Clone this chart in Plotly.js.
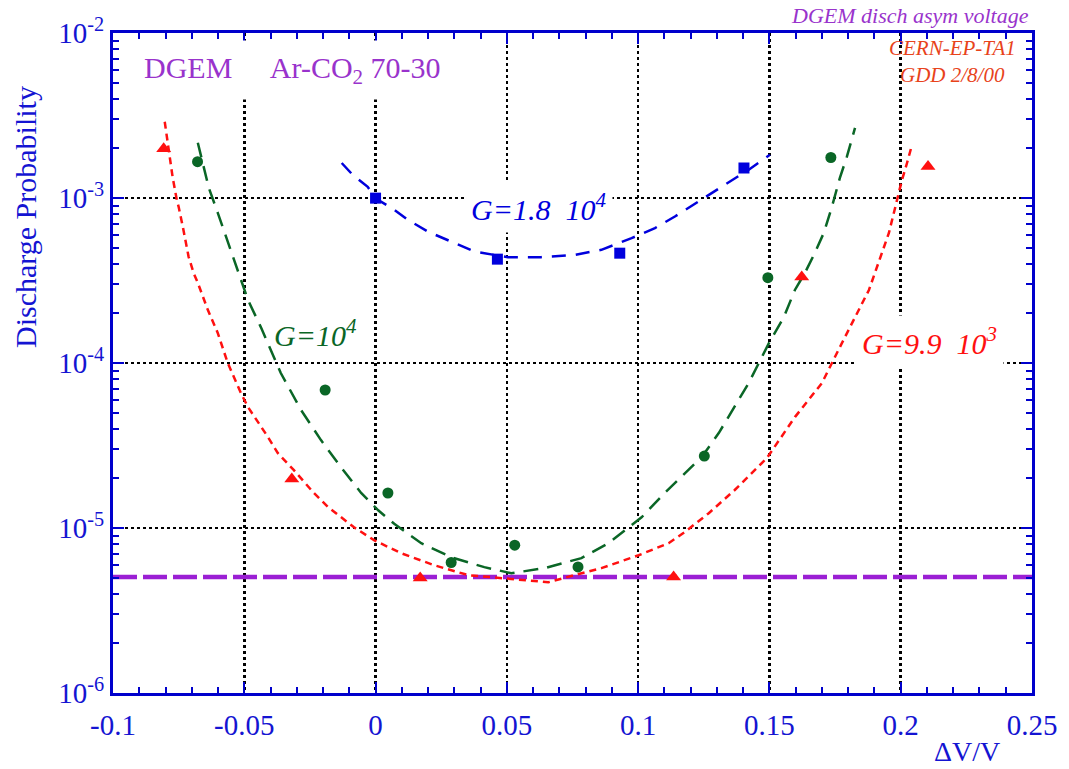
<!DOCTYPE html>
<html>
<head>
<meta charset="utf-8">
<script src="https://cdn.plot.ly/plotly-3.0.1.min.js"></script>
<style>html,body{margin:0;padding:0;background:#fff;}#chart{width:1069px;height:769px;}</style>
</head>
<body>
<div id="chart"></div>
<script>
// ---- axis ticks ----
const xTickVals = [-0.1, -0.05, 0, 0.05, 0.1, 0.15, 0.2, 0.25];
const xTickText = ['-0.1', '-0.05', '0', '0.05', '0.1', '0.15', '0.2', '0.25'];
const yTickVals = [1e-6, 1e-5, 1e-4, 1e-3, 1e-2];
const yTickText = ['10<sup>-6</sup>', '10<sup>-5</sup>', '10<sup>-4</sup>', '10<sup>-3</sup>', '10<sup>-2</sup>'];

// ---- measured points ----
// G = 9.9 10^3 (red triangles)
const redX = [-0.0807, -0.0319, 0.0170, 0.1135, 0.1623, 0.2104];
const redY = [1.99e-3, 1.98e-5, 4.97e-6, 5.04e-6, 3.32e-4, 1.55e-3];
// G = 10^4 (green circles)
const greenX = [-0.0678, -0.0192, 0.0047, 0.0288, 0.0530, 0.0771, 0.1252, 0.1494, 0.1734];
const greenY = [1.66e-3, 6.86e-5, 1.63e-5, 6.18e-6, 7.87e-6, 5.81e-6, 2.73e-5, 3.29e-4, 1.76e-3];
// G = 1.8 10^4 (blue squares)
const blueX = [0.0, 0.0464, 0.0930, 0.1403];
const blueY = [9.98e-4, 4.26e-4, 4.63e-4, 1.52e-3];

// ---- fitted curves ----
const blueFitX = [-0.0129, -0.0087, -0.0030, -0.0002, 0.0072, 0.0123, 0.0199, 0.0301, 0.0377, 0.0504,
                  0.0631, 0.0758, 0.0860, 0.0975, 0.1064, 0.1140, 0.1242, 0.1318, 0.1420, 0.1502];
const blueFitY = [1.63e-3, 1.38e-3, 1.17e-3, 1.00e-3, 8.47e-4, 7.37e-4, 6.26e-4, 5.32e-4, 4.73e-4, 4.38e-4,
                  4.38e-4, 4.52e-4, 4.85e-4, 5.71e-4, 6.57e-4, 7.72e-4, 9.74e-4, 1.17e-3, 1.48e-3, 1.83e-3];

const greenFitX = [-0.0677, -0.0658, -0.0635, -0.0601, -0.0551, -0.0486, -0.0437, -0.0361, -0.0284, -0.0208,
                   -0.0132, -0.0055, 0.0010, 0.0071, 0.0174, 0.0288, 0.0414, 0.0517, 0.0643, 0.0784,
                   0.0887, 0.1013, 0.1101, 0.1177, 0.1242, 0.1307, 0.1368, 0.1421, 0.1498, 0.1555,
                   0.1597, 0.1635, 0.1673, 0.1707, 0.1738, 0.1768, 0.1795, 0.1826];
const greenFitY = [2.16e-3, 1.59e-3, 1.15e-3, 8.13e-4, 4.85e-4, 2.41e-4, 1.65e-4, 8.70e-5, 5.19e-5, 3.41e-5,
                   2.34e-5, 1.63e-5, 1.28e-5, 1.06e-5, 8.09e-6, 6.65e-6, 5.79e-6, 5.32e-6, 5.71e-6, 6.57e-6,
                   8.09e-6, 1.16e-5, 1.63e-5, 2.15e-5, 2.69e-5, 3.76e-5, 5.41e-5, 7.56e-5, 1.32e-4, 1.90e-4,
                   2.77e-4, 3.51e-4, 4.65e-4, 6.14e-4, 8.84e-4, 1.32e-3, 1.78e-3, 2.66e-3];

const redFitX = [-0.0803, -0.0788, -0.0773, -0.0757, -0.0750, -0.0734, -0.0712, -0.0693, -0.0677, -0.0639,
                 -0.0601, -0.0563, -0.0513, -0.0486, -0.0445, -0.0410, -0.0372, -0.0311, -0.0235, -0.0181,
                 -0.0082, -0.0006, 0.0097, 0.0223, 0.0353, 0.0479, 0.0658, 0.0757, 0.0860, 0.1002,
                 0.1116, 0.1177, 0.1269, 0.1368, 0.1490, 0.1597, 0.1700, 0.1776, 0.1879, 0.1955,
                 0.2005, 0.2024, 0.2043];
const redFitY = [2.90e-3, 1.96e-3, 1.34e-3, 9.74e-4, 8.84e-4, 6.68e-4, 4.40e-4, 3.51e-4, 3.06e-4, 2.10e-4,
                 1.52e-4, 1.00e-4, 6.58e-5, 5.41e-5, 4.33e-5, 3.56e-5, 2.84e-5, 2.24e-5, 1.63e-5, 1.34e-5,
                 1.01e-5, 8.44e-6, 7.04e-6, 5.95e-6, 5.18e-6, 4.96e-6, 4.69e-6, 5.18e-6, 5.71e-6, 6.84e-6,
                 8.09e-6, 9.44e-6, 1.23e-5, 1.70e-5, 2.65e-5, 4.70e-5, 7.56e-5, 1.32e-4, 2.77e-4, 6.14e-4,
                 1.29e-3, 1.63e-3, 2.10e-3];

// DGEM discharge level (horizontal dashed line)
const dgemLevelX = [-0.1, 0.25];
const dgemLevelY = [5.05e-6, 5.05e-6];

// ---- styles ----
const AX = '#0000CC';
const AXTXT = '#1414D2';
const RED = '#FF1010';
const GREEN = '#0A6626';
const BLUE = '#0000DD';
const PURPLE = '#9B1FD4';
const SERIF = 'Liberation Serif, Times New Roman, serif';

// minor tick positions (axis decoration only)
const xMinor = [];
for (let i = -10; i <= 25; i++) { if (i % 5 !== 0) xMinor.push(i / 100); }
const yMinor = [];
for (let e = -6; e < -2; e++) { for (let m = 2; m <= 9; m++) { yMinor.push(m * Math.pow(10, e)); } }

const traces = [
  {x: dgemLevelX, y: dgemLevelY, mode: 'lines', line: {color: PURPLE, width: 4.5, dash: '24px,6px'}},
  {x: redFitX, y: redFitY, mode: 'lines', line: {color: RED, width: 2.5, dash: '7px,5px'}},
  {x: greenFitX, y: greenFitY, mode: 'lines', line: {color: GREEN, width: 2.5, dash: '15px,9px'}},
  {x: blueFitX, y: blueFitY, mode: 'lines', line: {color: BLUE, width: 2.5, dash: '14px,10px'}},
  {x: redX, y: redY, mode: 'markers', marker: {symbol: 'triangle-up', size: 13, color: RED}},
  {x: greenX, y: greenY, mode: 'markers', marker: {symbol: 'circle', size: 11, color: GREEN}},
  {x: blueX, y: blueY, mode: 'markers', marker: {symbol: 'square', size: 11, color: BLUE}},
  // invisible copy on the overlay axes, only so that the minor-tick axes get drawn
  {x: blueX, y: blueY, xaxis: 'x2', yaxis: 'y2', mode: 'markers', marker: {opacity: 0, size: 1}, showlegend: false}
];

const axisCommon = {
  showline: true, linecolor: AX, linewidth: 3, mirror: 'allticks',
  ticks: 'inside', ticklen: 11, tickwidth: 2, tickcolor: AX,
  tickfont: {family: SERIF, size: 29, color: AXTXT},
  showgrid: true, gridcolor: '#000000', griddash: '3px,3px', gridwidth: 2.5,
  zeroline: false, tickmode: 'array'
};
const minorCommon = {
  showline: true, linecolor: AX, linewidth: 3, mirror: 'allticks', ticks: 'inside', ticklen: 6, tickwidth: 2, tickcolor: AX,
  showticklabels: false, showgrid: false, zeroline: false, tickmode: 'array'
};

const layout = {
  width: 1069, height: 769,
  margin: {l: 113, r: 37, t: 33, b: 76},
  paper_bgcolor: '#ffffff', plot_bgcolor: '#ffffff',
  showlegend: false,
  hovermode: false,
  font: {family: SERIF},
  xaxis: Object.assign({}, axisCommon, {
    range: [-0.1, 0.25], tickvals: xTickVals, ticktext: xTickText, ticklabelstandoff: 4
  }),
  yaxis: Object.assign({}, axisCommon, {
    type: 'log', range: [-6, -2], tickvals: yTickVals, ticktext: yTickText
  }),
  xaxis2: Object.assign({}, minorCommon, {overlaying: 'x', anchor: 'y2', side: 'bottom', range: [-0.1, 0.25], tickvals: xMinor}),
  yaxis2: Object.assign({}, minorCommon, {overlaying: 'y', anchor: 'x2', side: 'left', type: 'log', range: [-6, -2], tickvals: yMinor}),
  annotations: [
    {xref: 'paper', yref: 'paper', x: -0.0959, y: 0.721, text: 'Discharge Probability', textangle: -90,
     showarrow: false, font: {family: SERIF, size: 30, color: AXTXT}, xanchor: 'center', yanchor: 'middle'},
    {xref: 'paper', yref: 'paper', x: 0.929, y: -0.1136, text: '\u0394V/V', borderpad: 0,
     showarrow: false, font: {family: SERIF, size: 28, color: AXTXT}, xanchor: 'center', yanchor: 'bottom'},
    {xref: 'paper', yref: 'paper', x: 0.0218, y: 0.944, xanchor: 'left', yanchor: 'middle',
     text: 'DGEM\u00a0\u00a0\u00a0\u00a0\u00a0Ar-CO<sub>2</sub> 70-30',
     showarrow: false, bgcolor: '#ffffff', borderpad: 10, font: {family: SERIF, size: 30, color: '#9933CC'}},
    {xref: 'paper', yref: 'paper', x: 0.999, y: 1.027, xanchor: 'right', yanchor: 'middle',
     text: '<i>DGEM disch asym voltage</i>', showarrow: false,
     font: {family: SERIF, size: 22, color: '#9933CC'}},
    {xref: 'paper', yref: 'paper', x: 0.913, y: 0.9773, xanchor: 'center', yanchor: 'middle', borderpad: 0,
     text: '<i>CERN-EP-TA1</i>', showarrow: false, font: {family: SERIF, size: 21, color: '#E8431A'}},
    {xref: 'paper', yref: 'paper', x: 0.913, y: 0.9364, xanchor: 'center', yanchor: 'middle', borderpad: 0,
     text: '<i>GDD 2/8/00</i>', showarrow: false, font: {family: SERIF, size: 21, color: '#E8431A'}},
    {xref: 'paper', yref: 'paper', x: 0.463, y: 0.736, xanchor: 'center', yanchor: 'middle',
     text: '<i>G=1.8  10<sup>4</sup></i>', showarrow: false, bgcolor: '#ffffff', borderpad: 6,
     font: {family: SERIF, size: 30, color: BLUE}},
    {xref: 'paper', yref: 'paper', x: 0.220, y: 0.545, xanchor: 'center', yanchor: 'middle',
     text: '<i>G=10<sup>4</sup></i>', showarrow: false,
     font: {family: SERIF, size: 30, color: GREEN}},
    {xref: 'paper', yref: 'paper', x: 0.888, y: 0.533, xanchor: 'center', yanchor: 'middle',
     text: '<i>G=9.9  10<sup>3</sup></i>', showarrow: false, bgcolor: '#ffffff', borderpad: 6,
     font: {family: SERIF, size: 30, color: RED}}
  ]
};

Plotly.newPlot('chart', traces, layout, {displayModeBar: false, staticPlot: true});
</script>
</body>
</html>
